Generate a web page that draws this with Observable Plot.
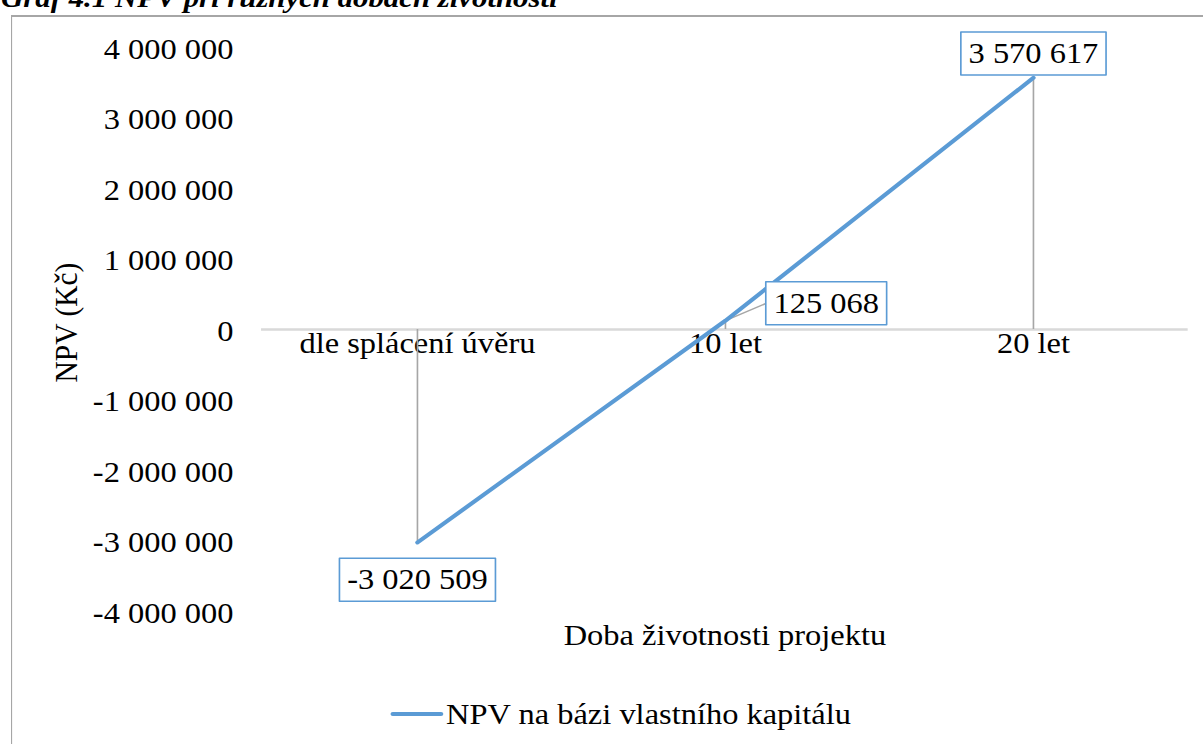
<!DOCTYPE html>
<html><head><meta charset="utf-8">
<script src="https://cdn.jsdelivr.net/npm/d3@7"></script>
<script src="https://cdn.jsdelivr.net/npm/@observablehq/plot@0.6"></script>
<style>
html,body{margin:0;padding:0;background:#fff;overflow:hidden;width:1203px;height:744px;}
#page{position:absolute;left:0;top:0;width:1094px;height:744px;transform:scaleX(1.1);transform-origin:0 0;font-family:'Liberation Serif','Times New Roman',serif;color:#000;}
#title{position:absolute;left:1px;top:-16px;font-size:28px;line-height:28px;font-weight:bold;font-style:italic;white-space:nowrap;}
#chart{position:absolute;left:0;top:0;width:1094px;}
#legend{position:absolute;left:354.5px;top:697px;height:34px;display:flex;align-items:center;font-size:29.5px;line-height:34px;white-space:nowrap;}
#legend .sw{display:inline-block;width:48px;height:4px;background:#5b9bd5;border-radius:2px;margin-right:3px;}
#frame{position:absolute;left:10px;top:15px;width:1200px;height:800px;border-top:2px solid #a6a6a6;border-left:1.8px solid #a6a6a6;box-sizing:border-box;pointer-events:none;}
</style></head>
<body>
<div id="page">
  <div id="title">Graf 4.1 NPV při různých dobách životnosti</div>
  <div id="chart"></div>
  <div id="legend"><span class="sw"></span><span id="legendText"></span></div>
  <div id="frame"></div>
</div>
<script>
// ---- data ----
const categories = ["dle splácení úvěru", "10 let", "20 let"];
const npvValues = [-3020509, 125068, 3570617];
const yTicks = [-4000000, -3000000, -2000000, -1000000, 0, 1000000, 2000000, 3000000, 4000000];
const seriesName = "NPV na bázi vlastního kapitálu";
const xTitle = "Doba životnosti projektu";
const yTitle = "NPV (Kč)";

// ---- style / layout config ----
const FONT = "'Liberation Serif','Times New Roman',serif";
const FS = 29.5;
const BLUE = "#5b9bd5";
const labelOffsets = {"dle splácení úvěru": [0, 37.4], "10 let": [91.6, -17.4], "20 let": [0, -24.3]};
const leader = {cat: "10 let", length: 40.6, rotate: 64.9};

const fmt = d3.formatLocale({decimal: ",", thousands: " ", grouping: [3], currency: ["", ""], minus: "-"}).format(",d");

const data = categories.map((c, i) => ({cat: c, value: npvValues[i], label: fmt(npvValues[i])}));

const ctx = document.createElement("canvas").getContext("2d");
ctx.font = `${FS}px 'Liberation Serif'`;
const boxShape = (w, h) => ({draw(c) { c.rect(-w / 2, -h / 2, w, h); }});
const lineShape = {draw(c, l) { c.moveTo(0, 0); c.lineTo(0, -l); }};

const labelMarks = data.flatMap(d => {
  const [dx, dy] = labelOffsets[d.cat];
  const w = ctx.measureText(d.label).width + 14;
  return [
    Plot.vector([d], {x: "cat", y: "value", length: 0, anchor: "middle", dx, dy, shape: boxShape(w, 43),
      fill: "white", stroke: BLUE, strokeWidth: 1.5}),
    Plot.text([d], {x: "cat", y: "value", text: "label", dx, dy, fontSize: FS, fill: "black"})
  ];
});

const chart = Plot.plot({
  width: 1094, height: 680,
  marginLeft: 237.3, marginRight: 14.3, marginTop: 47, marginBottom: 69,
  style: {fontFamily: FONT, fontSize: FS + "px", color: "black", background: "transparent", overflow: "visible"},
  x: {type: "point", domain: categories, padding: 0.5, axis: null},
  y: {domain: [-4000000, 4000000]},
  marks: [
    Plot.ruleY([0], {stroke: "#d9d9d9", strokeWidth: 2.5}),
    Plot.axisY({ticks: yTicks, tickFormat: fmt, tickSize: 0, tickPadding: 25.6, fontSize: FS, dy: 2, label: null}),
    Plot.text(categories, {x: d => d, y: () => 0, dy: 14, fontSize: FS, fill: "black"}),
    Plot.text([xTitle], {frameAnchor: "bottom", textAnchor: "middle", lineAnchor: "middle", dy: 24, fontSize: FS, fill: "black"}),
    Plot.text([yTitle], {frameAnchor: "left", textAnchor: "middle", lineAnchor: "middle", rotate: -90, dx: -177.3, dy: -7, fontSize: FS, fill: "black"}),
    Plot.ruleX(data, {x: "cat", y1: 0, y2: "value", stroke: "#a6a6a6", strokeWidth: 1.5}),
    Plot.vector(data.filter(d => d.cat === leader.cat), {x: "cat", y: "value", length: leader.length, rotate: leader.rotate,
      anchor: "start", shape: lineShape, stroke: "#a6a6a6", strokeWidth: 1.5}),
    Plot.line(data, {x: "cat", y: "value", stroke: BLUE, strokeWidth: 4, strokeLinecap: "round", strokeLinejoin: "round"}),
    ...labelMarks
  ]
});
document.getElementById("chart").appendChild(chart);
document.getElementById("legendText").textContent = seriesName;
</script>
</body></html>
